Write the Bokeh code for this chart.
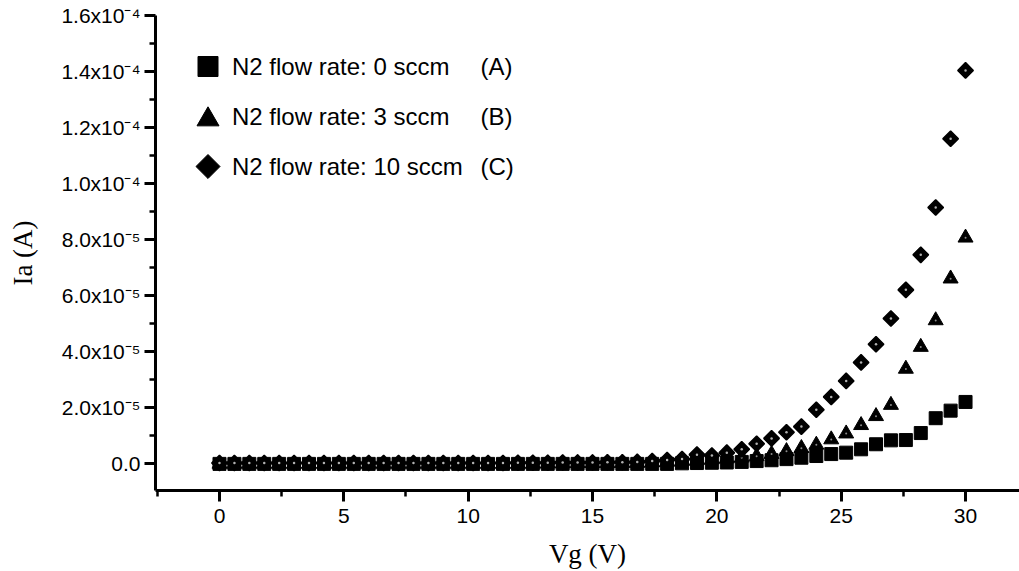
import math
from bokeh.plotting import figure
from bokeh.models import Range1d, FixedTicker, CustomJSTickFormatter
from bokeh.core.properties import value
from bokeh.embed import file_html
from bokeh.resources import INLINE

# ---------------- data ----------------
vg = [0.0, 0.6, 1.2, 1.8, 2.4, 3.0, 3.6, 4.2, 4.8, 5.4,
      6.0, 6.6, 7.2, 7.8, 8.4, 9.0, 9.6, 10.2, 10.8, 11.4,
      12.0, 12.6, 13.2, 13.8, 14.4, 15.0, 15.6, 16.2, 16.8, 17.4,
      18.0, 18.6, 19.2, 19.8, 20.4, 21.0, 21.6, 22.2, 22.8, 23.4,
      24.0, 24.6, 25.2, 25.8, 26.4, 27.0, 27.6, 28.2, 28.8, 29.4,
      30.0]

# anode current in units of 1e-5 A
ia_a_e5 = [0.0, 0.0, 0.0, 0.0, 0.0, 0.0, 0.0, 0.0, 0.0, 0.0,
           0.0, 0.0, 0.0, 0.0, 0.0, 0.0, 0.0, 0.0, 0.0, 0.0,
           0.0, 0.0, 0.0, 0.0, 0.0, 0.0, 0.0, 0.0, 0.0, 0.0,
           0.0, 0.02, 0.03, 0.04, 0.05, 0.07, 0.10, 0.13, 0.17, 0.22,
           0.28, 0.35, 0.40, 0.52, 0.70, 0.84, 0.85, 1.10, 1.63, 1.90,
           2.21]
ia_b_e5 = [0.0, 0.0, 0.0, 0.0, 0.0, 0.0, 0.0, 0.0, 0.0, 0.0,
           0.0, 0.0, 0.0, 0.0, 0.0, 0.0, 0.0, 0.0, 0.0, 0.0,
           0.0, 0.0, 0.01, 0.01, 0.02, 0.02, 0.02, 0.03, 0.03, 0.05,
           0.07, 0.10, 0.13, 0.16, 0.19, 0.22, 0.27, 0.35, 0.45, 0.56,
           0.68, 0.87, 1.08, 1.38, 1.70, 2.10, 3.39, 4.17, 5.12, 6.61,
           8.07]
ia_c_e5 = [0.03, 0.03, 0.03, 0.03, 0.03, 0.03, 0.03, 0.03, 0.03, 0.03,
           0.03, 0.03, 0.03, 0.03, 0.03, 0.03, 0.03, 0.03, 0.03, 0.03,
           0.04, 0.04, 0.04, 0.05, 0.05, 0.05, 0.06, 0.06, 0.07, 0.10,
           0.14, 0.17, 0.33, 0.30, 0.40, 0.52, 0.72, 0.91, 1.13, 1.33,
           1.93, 2.39, 2.96, 3.62, 4.27, 5.19, 6.21, 7.46, 9.15, 11.60,
           14.04]

x_ticks = [0, 5, 10, 15, 20, 25, 30]
x_minor = [-2.5, 2.5, 7.5, 12.5, 17.5, 22.5, 27.5, 32.5]
y_ticks = [0.0, 2.0e-5, 4.0e-5, 6.0e-5, 8.0e-5, 1.0e-4, 1.2e-4, 1.4e-4, 1.6e-4]
y_tick_labels = ["0.0", "2.0x10\u207b\u2075", "4.0x10\u207b\u2075", "6.0x10\u207b\u2075",
                 "8.0x10\u207b\u2075", "1.0x10\u207b\u2074", "1.2x10\u207b\u2074",
                 "1.4x10\u207b\u2074", "1.6x10\u207b\u2074"]
y_minor = [-1.0e-5, 1.0e-5, 3.0e-5, 5.0e-5, 7.0e-5, 9.0e-5, 1.1e-4, 1.3e-4, 1.5e-4]

legend_labels = ["N2 flow rate: 0 sccm", "N2 flow rate: 3 sccm", "N2 flow rate: 10 sccm"]
legend_tags = ["(A)", "(B)", "(C)"]

# unit conversion to amperes
ia_a = [v * 1e-5 for v in ia_a_e5]
ia_b = [v * 1e-5 for v in ia_b_e5]
ia_c = [v * 1e-5 for v in ia_c_e5]

# ---------------- figure ----------------
W, H = 1019, 571
BL, BR, BT, BB = 155, 0, 15, 81
FW, FH = W - BL - BR, H - BT - BB

p = figure(width=W, height=H, output_backend="svg", toolbar_location=None,
           x_range=Range1d(-2.573, 32.17), y_range=Range1d(-0.95e-5, 1.6e-4),
           min_border_left=BL, min_border_right=BR, min_border_top=BT, min_border_bottom=BB,
           background_fill_color="white", border_fill_color="white")
p.outline_line_color = None
p.xgrid.visible = False
p.ygrid.visible = False

TICK_FONT = "Liberation Sans"
LABEL_FONT = "Liberation Serif"

for ax in (p.xaxis[0], p.yaxis[0]):
    ax.axis_line_width = 3
    ax.axis_line_color = "black"
    ax.major_tick_line_width = 3
    ax.major_tick_line_color = "black"
    ax.minor_tick_line_width = 2.5
    ax.minor_tick_line_color = "black"
    ax.major_tick_out = 11
    ax.major_tick_in = 0
    ax.minor_tick_out = 6
    ax.minor_tick_in = 0
    ax.major_label_text_font = TICK_FONT
    ax.major_label_text_font_size = "21px"
    ax.major_label_text_color = "black"
    ax.axis_label_text_font = LABEL_FONT
    ax.axis_label_text_font_style = "normal"
    ax.axis_label_text_font_size = "27px"
    ax.axis_label_text_color = "black"

p.xaxis.ticker = FixedTicker(ticks=x_ticks, minor_ticks=x_minor)
p.yaxis.ticker = FixedTicker(ticks=y_ticks, minor_ticks=y_minor)
p.yaxis.formatter = CustomJSTickFormatter(args=dict(tvals=y_ticks, tlabels=y_tick_labels), code="""
    let best = 0;
    for (let i = 0; i < tvals.length; i++) {
        if (Math.abs(tvals[i] - tick) < Math.abs(tvals[best] - tick)) best = i;
    }
    return tlabels[best];
""")
p.xaxis.axis_label = "Vg (V)"
p.yaxis.axis_label = "Ia (A)"
p.xaxis.major_label_standoff = 7
p.yaxis.major_label_standoff = 4
p.xaxis.axis_label_standoff = 13
p.yaxis.axis_label_standoff = 20

# ---------------- data marks ----------------
p.scatter(vg, ia_a, marker="square", size=13, fill_color="black", line_color="black")
p.scatter(vg, ia_b, marker="triangle", size=15, fill_color="black", line_color="black")
p.scatter(vg, ia_b, marker="circle", size=2, fill_color="#8a8a8a", line_color=None)
p.scatter(vg, ia_c, marker="square", angle=math.pi / 4, size=11,
          fill_color="black", line_color="black", line_width=1.5)
p.scatter(vg, ia_c, marker="circle", size=2.5, fill_color="#b0b0b0", line_color=None)

# ---------------- legend (drawn in frame pixel units) ----------------
p.extra_x_ranges["lx"] = Range1d(0, FW)
p.extra_y_ranges["ly"] = Range1d(FH, 0)
mx, tx, gx = 52.5, 76.5, 325
rows = [51, 101, 151]
p.scatter([mx], [rows[0]], marker="square", size=20, fill_color="black", line_color="black",
          x_range_name="lx", y_range_name="ly")
p.scatter([mx], [rows[1] + 3], marker="triangle", size=22, fill_color="black", line_color="black",
          x_range_name="lx", y_range_name="ly")
p.scatter([mx], [rows[2]], marker="square", angle=math.pi / 4, size=17, fill_color="black",
          line_color="black", x_range_name="lx", y_range_name="ly")
p.text([tx] * 3, rows, text=legend_labels, text_font=value(TICK_FONT), text_font_size="24px",
       text_align="left", text_baseline="middle", text_color="black",
       x_range_name="lx", y_range_name="ly")
p.text([gx] * 3, rows, text=legend_tags, text_font=value(TICK_FONT), text_font_size="24px",
       text_align="left", text_baseline="middle", text_color="black",
       x_range_name="lx", y_range_name="ly")

open("out.html", "w").write(file_html(p, INLINE))
